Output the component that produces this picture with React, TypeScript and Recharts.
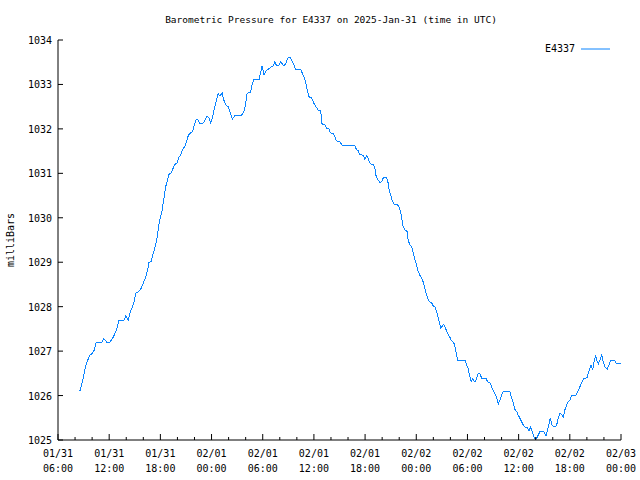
import { LineChart, Line, XAxis, YAxis, Legend } from "recharts";

const BLUE = "#0a84ff";
const FONT = "'DejaVu Sans Mono', monospace";

// hours since 01/31 06:00 UTC
const sampleHours = [
  2.46, 2.58, 2.78, 2.98, 3.17, 3.37, 3.57, 3.75, 4.03, 4.27, 4.46, 4.62, 5.13, 5.36, 5.51, 5.71, 6.1, 6.3, 6.5, 6.77,
  7.0, 7.08, 7.74, 7.94, 8.09, 8.26, 8.41, 8.64, 8.88, 9.11, 9.43, 9.74, 10.02, 10.29, 10.52, 10.67, 10.91, 11.07, 11.31, 11.54,
  11.69, 11.85, 12.01, 12.16, 12.32, 12.48, 12.63, 12.83, 13.02, 13.25, 13.49, 13.69, 13.96, 14.12, 14.36, 14.59, 14.86, 15.06, 15.29, 15.53,
  15.76, 16.0, 16.23, 16.42, 16.62, 17.01, 17.24, 17.48, 17.71, 17.91, 18.11, 18.34, 18.58, 18.77, 18.97, 19.24, 19.44, 19.67, 19.94, 20.14,
  20.46, 20.73, 21.51,
  21.78, 21.98, 22.17, 22.57, 22.75, 22.99, 23.58, 23.74, 23.93, 24.04, 24.16, 24.33, 24.56, 24.91, 25.22, 25.42, 25.62, 25.85, 26.12, 26.32,
  26.51, 26.71, 26.98, 27.26, 27.56, 27.88, 28.47, 28.74, 28.94, 29.13, 29.32, 29.44, 29.72, 29.99, 30.31, 30.54, 30.78, 30.89, 30.96, 31.28,
  31.48, 31.75, 31.95, 32.25, 32.45, 32.65, 33.04, 33.24, 33.43, 34.8, 35.0, 35.19, 35.39, 35.77, 35.97, 36.17, 36.32, 36.48, 36.68, 36.95,
  37.15, 37.26, 37.5, 37.73, 37.93, 38.12, 38.32, 38.52, 38.71, 38.82, 38.99, 39.17, 39.37, 39.76,
  39.96, 40.16, 40.28, 40.47, 40.67, 40.93, 41.05, 41.25, 41.45, 41.6, 41.76, 41.92, 42.07, 42.22, 42.42, 42.62, 42.81, 43.01, 43.21, 43.4,
  43.6, 43.8, 43.98, 44.18, 44.38, 44.57, 44.73, 44.89, 45.0, 45.2, 45.44, 45.67, 45.94, 46.14, 46.38, 46.53, 46.68, 46.85, 47.7, 47.9,
  48.09,
  48.29, 48.44, 48.61, 48.76, 48.91, 49.07, 49.26, 49.46, 49.66, 50.16, 50.36, 50.63, 50.83, 51.02, 51.22, 51.42, 51.61, 51.81, 52.01, 52.19,
  52.98, 53.18, 53.37, 53.57, 53.77, 53.95, 54.15, 54.35, 54.54, 54.74, 55.01, 55.21, 55.41, 55.6, 55.8, 55.95, 56.11, 56.3, 56.5, 56.97,
  57.2, 57.4,
  57.71, 57.94, 58.26, 58.46, 58.65, 58.84, 59.04, 59.23, 59.43, 59.63, 59.82, 60.02, 60.22, 60.72, 60.92, 61.11, 61.31, 61.51, 61.69, 62.01,
  62.16, 62.36, 62.48, 62.68, 62.87, 63.03, 63.15, 63.34, 63.54, 63.74, 63.92, 64.12, 64.39, 64.63, 64.83, 65.21, 65.41, 66.0,
];

const pressure = [
  1026.1, 1026.11, 1026.24, 1026.42, 1026.61, 1026.73, 1026.84, 1026.91, 1026.95, 1027.03, 1027.18, 1027.2, 1027.2, 1027.28, 1027.25, 1027.2, 1027.2, 1027.27, 1027.32, 1027.44,
  1027.57, 1027.68, 1027.7, 1027.79, 1027.74, 1027.7, 1027.84, 1027.96, 1028.08, 1028.3, 1028.34, 1028.41, 1028.54, 1028.67, 1028.83, 1029.0, 1029.01, 1029.14, 1029.29, 1029.46,
  1029.65, 1029.88, 1030.02, 1030.1, 1030.33, 1030.51, 1030.7, 1030.85, 1030.98, 1031.01, 1031.11, 1031.2, 1031.23, 1031.34, 1031.41, 1031.53, 1031.6, 1031.71, 1031.86, 1031.91,
  1031.94, 1032.09, 1032.22, 1032.2, 1032.13, 1032.13, 1032.2, 1032.29, 1032.24, 1032.13, 1032.27, 1032.46, 1032.65, 1032.8, 1032.74, 1032.81, 1032.65, 1032.54, 1032.5, 1032.39,
  1032.22, 1032.3, 1032.3,
  1032.39, 1032.54, 1032.8, 1032.82, 1032.99, 1033.12, 1033.12, 1033.25, 1033.42, 1033.33, 1033.21, 1033.29, 1033.33, 1033.38, 1033.42, 1033.51, 1033.42, 1033.42, 1033.51, 1033.45,
  1033.42, 1033.48, 1033.6, 1033.6, 1033.48, 1033.33, 1033.33, 1033.21, 1033.12, 1032.95, 1032.8, 1032.72, 1032.7, 1032.58, 1032.48, 1032.41, 1032.41, 1032.24, 1032.1, 1032.09,
  1032.01, 1032.0, 1031.91, 1031.9, 1031.82, 1031.73, 1031.71, 1031.65, 1031.62, 1031.62, 1031.53, 1031.51, 1031.42, 1031.41, 1031.32, 1031.39, 1031.36, 1031.26, 1031.21, 1031.2,
  1031.11, 1030.96, 1030.85, 1030.8, 1030.81, 1030.89, 1030.91, 1030.9, 1030.78, 1030.63, 1030.51, 1030.4, 1030.31, 1030.3,
  1030.25, 1030.14, 1029.99, 1029.8, 1029.73, 1029.69, 1029.5, 1029.39, 1029.35, 1029.24, 1029.11, 1029.01, 1028.9, 1028.79, 1028.71, 1028.64, 1028.56, 1028.41, 1028.26, 1028.15,
  1028.1, 1028.09, 1028.02, 1028.0, 1027.89, 1027.76, 1027.63, 1027.51, 1027.55, 1027.6, 1027.51, 1027.4, 1027.31, 1027.23, 1027.2, 1027.1, 1026.95, 1026.8, 1026.8, 1026.69,
  1026.6,
  1026.42, 1026.31, 1026.37, 1026.33, 1026.31, 1026.39, 1026.49, 1026.5, 1026.39, 1026.39, 1026.31, 1026.29, 1026.2, 1026.11, 1026.04, 1025.95, 1025.81, 1025.9, 1026.01, 1026.09,
  1026.09, 1025.94, 1025.84, 1025.69, 1025.64, 1025.56, 1025.49, 1025.41, 1025.34, 1025.29, 1025.29, 1025.21, 1025.29, 1025.19, 1025.07, 1025.02, 1025.04, 1025.11, 1025.19, 1025.19,
  1025.09, 1025.23,
  1025.49, 1025.32, 1025.29, 1025.34, 1025.49, 1025.6, 1025.58, 1025.51, 1025.68, 1025.79, 1025.86, 1025.9, 1026.01, 1026.01, 1026.09, 1026.16, 1026.26, 1026.33, 1026.39, 1026.4,
  1026.5, 1026.61, 1026.69, 1026.59, 1026.78, 1026.91, 1026.8, 1026.71, 1026.8, 1026.91, 1026.76, 1026.65, 1026.59, 1026.71, 1026.8, 1026.8, 1026.73, 1026.71,
];

const majorHours = [0, 6, 12, 18, 24, 30, 36, 42, 48, 54, 60, 66];
const tickDates = ["01/31", "01/31", "01/31", "02/01", "02/01", "02/01", "02/01", "02/02", "02/02", "02/02", "02/02", "02/03"];
const tickTimes = ["06:00", "12:00", "18:00", "00:00", "06:00", "12:00", "18:00", "00:00", "06:00", "12:00", "18:00", "00:00"];
const allXTicks = [0, 2, 4, 6, 8, 10, 12, 14, 16, 18, 20, 22, 24, 26, 28, 30, 32, 34, 36, 38, 40, 42, 44, 46, 48, 50, 52, 54, 56, 58, 60, 62, 64, 66];
const yTicks = [1025, 1026, 1027, 1028, 1029, 1030, 1031, 1032, 1033, 1034];

const data = sampleHours.map((h, i) => ({ h, p: pressure[i] }));

function BottomTick(props: any) {
  const { x, y, payload } = props;
  const idx = majorHours.indexOf(payload.value);
  const major = idx >= 0;
  return (
    <g>
      <line x1={x} x2={x} y1={y} y2={y - (major ? 6 : 3)} stroke="#000" />
      {major && (
        <text textAnchor="middle" fontSize={10} fontFamily={FONT} fill="#000">
          <tspan x={x} y={y + 17}>{tickDates[idx]}</tspan>
          <tspan x={x} y={y + 32}>{tickTimes[idx]}</tspan>
        </text>
      )}
    </g>
  );
}

function TopTick(props: any) {
  const { x, y, payload } = props;
  const major = majorHours.includes(payload.value);
  return <line x1={x} x2={x} y1={y} y2={y + (major ? 6 : 3)} stroke="#000" />;
}

function LeftTick(props: any) {
  const { x, y, payload } = props;
  return (
    <g>
      <line x1={x} x2={x + 5} y1={y} y2={y} stroke="#000" />
      <text x={x - 6} y={y + 4} textAnchor="end" fontSize={10} fontFamily={FONT} fill="#000">
        {payload.value}
      </text>
    </g>
  );
}

function RightTick(props: any) {
  const { x, y } = props;
  return <line x1={x} x2={x - 5} y1={y} y2={y} stroke="#000" />;
}

function LegendBox() {
  return (
    <div style={{ display: "flex", alignItems: "center", fontFamily: FONT, fontSize: 10, color: "#000" }}>
      <span>E4337</span>
      <svg width={36} height={10}>
        <line x1={6} x2={35} y1={5} y2={5} stroke={BLUE} />
      </svg>
    </div>
  );
}

export default function App() {
  return (
    <div style={{ position: "absolute", left: 0, top: 0, width: 640, height: 480, background: "#fff" }}>
      <div
        style={{
          position: "absolute",
          left: 331,
          top: 19,
          transform: "translate(-50%, -50%)",
          fontFamily: FONT,
          fontSize: 9.5,
          whiteSpace: "nowrap",
        }}
      >
        Barometric Pressure for E4337 on 2025-Jan-31 (time in UTC)
      </div>
      <div
        style={{
          position: "absolute",
          left: 10,
          top: 240,
          transform: "translate(-50%, -50%) rotate(-90deg)",
          fontFamily: FONT,
          fontSize: 10,
          whiteSpace: "nowrap",
        }}
      >
        milliBars
      </div>
      <LineChart width={640} height={480} data={data} margin={{ top: 40, right: 19, bottom: 0, left: 0 }}>
        <XAxis
          dataKey="h"
          type="number"
          domain={[0, 66]}
          ticks={allXTicks}
          interval={0}
          height={40}
          tickSize={0}
          tickMargin={0}
          tickLine={false}
          axisLine={{ stroke: "#000" }}
          tick={(p: any) => <BottomTick {...p} />}
        />
        <XAxis
          xAxisId="top"
          dataKey="h"
          type="number"
          orientation="top"
          domain={[0, 66]}
          ticks={allXTicks}
          interval={0}
          height={0}
          tickSize={0}
          tickMargin={0}
          tickLine={false}
          axisLine={{ stroke: "#000" }}
          tick={(p: any) => <TopTick {...p} />}
        />
        <YAxis
          type="number"
          domain={[1025, 1034]}
          ticks={yTicks}
          interval={0}
          width={58}
          allowDataOverflow
          tickSize={0}
          tickMargin={0}
          tickLine={false}
          axisLine={{ stroke: "#000" }}
          tick={(p: any) => <LeftTick {...p} />}
        />
        <YAxis
          yAxisId="right"
          type="number"
          orientation="right"
          domain={[1025, 1034]}
          ticks={yTicks}
          interval={0}
          width={0}
          tickSize={0}
          tickMargin={0}
          tickLine={false}
          axisLine={{ stroke: "#000" }}
          tick={(p: any) => <RightTick {...p} />}
        />
        <Legend
          layout="vertical"
          align="center"
          verticalAlign="middle"
          content={() => <LegendBox />}
          wrapperStyle={{ left: 545, top: 43, width: "auto" }}
        />
        <Line
          dataKey="p"
          type="linear"
          stroke={BLUE}
          strokeWidth={1}
          shapeRendering="crispEdges"
          dot={false}
          activeDot={false}
          isAnimationActive={false}
        />
      </LineChart>
    </div>
  );
}
